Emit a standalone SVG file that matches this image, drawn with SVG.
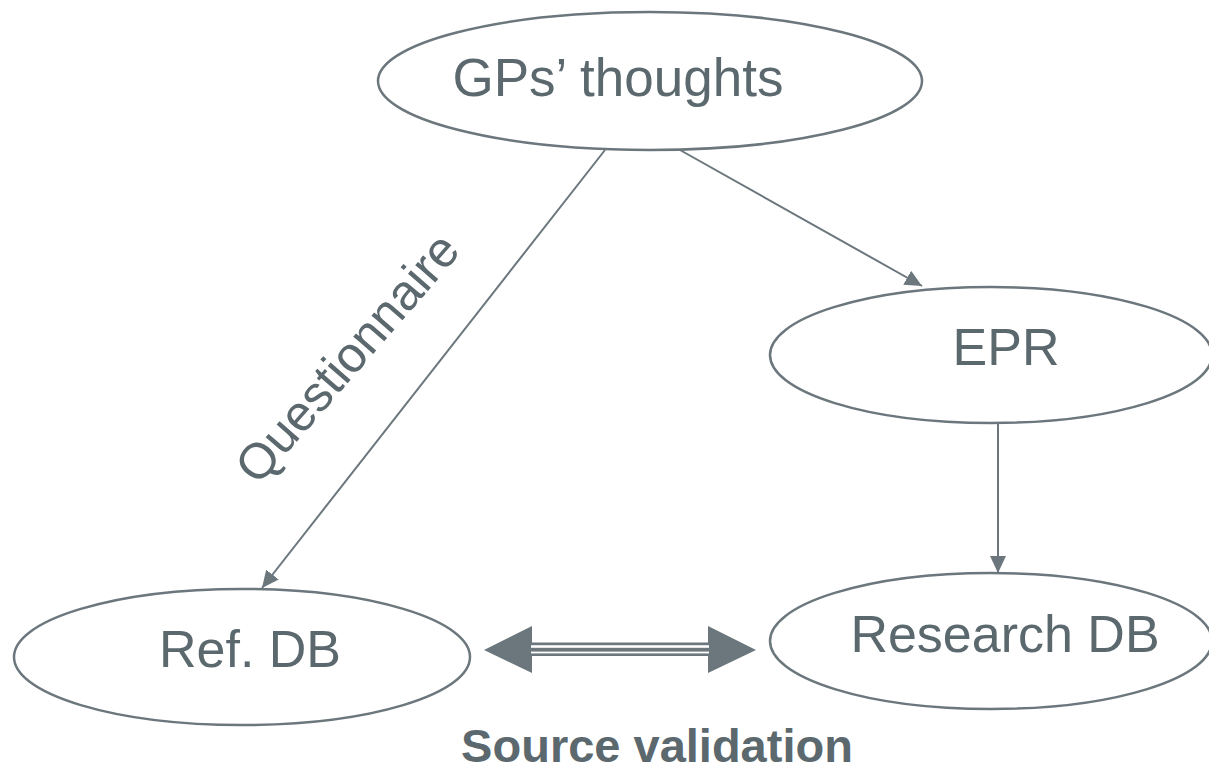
<svg xmlns="http://www.w3.org/2000/svg" width="1209" height="773" viewBox="0 0 1209 773">
<style>
.node ellipse{fill:#ffffff;stroke:#6b777c;stroke-width:2.5}
.lbl{font-family:"Liberation Sans",Arial,sans-serif;font-size:52px;fill:#5b686e;text-anchor:middle}
.conn line{stroke:#6b777c;stroke-width:2}
</style>
<defs>
<marker id="ah" markerUnits="userSpaceOnUse" markerWidth="18" markerHeight="16" refX="17" refY="8" orient="auto">
<path d="M0,0 L17,8 L0,16 z" fill="#6b777c"/>
</marker>
</defs>
<rect width="1209" height="773" fill="#ffffff"/>
<g id="gps" class="node">
<ellipse cx="650" cy="81" rx="272" ry="69"/>
<text class="lbl" x="618" y="96" style="font-size:53px">GPs’ thoughts</text>
</g>
<g id="epr" class="node">
<ellipse cx="991" cy="355" rx="221" ry="68"/>
<text class="lbl" x="1006" y="365">EPR</text>
</g>
<g id="refdb" class="node">
<ellipse cx="242" cy="657" rx="228" ry="68"/>
<text class="lbl" x="250" y="667">Ref. DB</text>
</g>
<g id="researchdb" class="node">
<ellipse cx="991" cy="641" rx="221" ry="68"/>
<text class="lbl" x="1005" y="652">Research DB</text>
</g>
<g id="connectors" class="conn">
<line x1="605" y1="150" x2="262" y2="588" marker-end="url(#ah)"/>
<line x1="680" y1="150" x2="922" y2="286" marker-end="url(#ah)"/>
<line x1="998" y1="423" x2="998" y2="573" marker-end="url(#ah)"/>
<g id="validation">
<polygon points="484,650 532,626 532,673" fill="#6b777c"/>
<polygon points="756,650 708,626 708,673" fill="#6b777c"/>
<rect x="531" y="642.5" width="178" height="13.5" fill="#6b777c"/>
<rect x="531" y="645.2" width="178" height="2.6" fill="#ffffff"/>
<rect x="531" y="651.6" width="178" height="1.8" fill="#ffffff"/>
</g>
<text class="lbl" x="360" y="369" transform="rotate(-49 360 369)" style="font-size:50px">Questionnaire</text>
</g>
<text class="lbl" x="657" y="762" style="font-size:47px;font-weight:bold">Source validation</text>
</svg>
